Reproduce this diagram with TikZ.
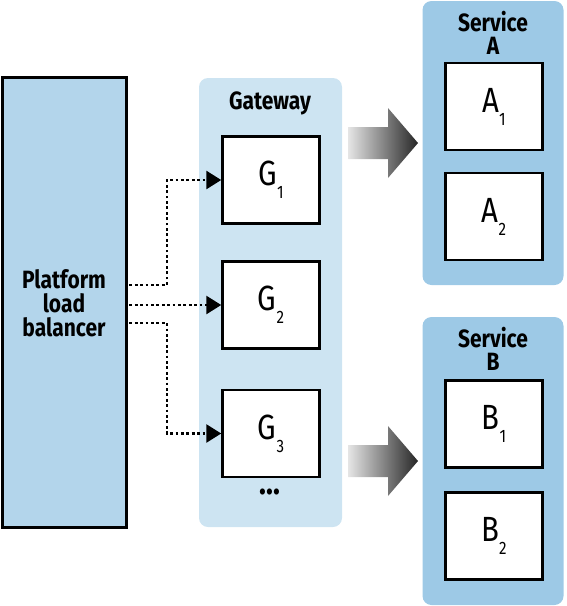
\documentclass[tikz,border=0pt]{standalone}
\usepackage{fontspec}
\setmainfont{Fira Sans}[FakeStretch=0.84]
\usetikzlibrary{arrows.meta,calc}
\definecolor{platblue}{HTML}{B3D5EB}
\definecolor{gwblue}{HTML}{CDE4F2}
\definecolor{svblue}{HTML}{9DC9E6}
\tikzset{
  lbl/.style={font=\fontsize{25}{24}\selectfont\bfseries, align=center, inner sep=0pt},
  inbox/.style={draw=black, line width=2.5pt, fill=white, minimum width=97pt, minimum height=87pt, inner sep=0pt, font=\fontsize{35}{36}\selectfont},
  dotline/.style={line width=2.8pt, dash pattern=on 2.8pt off 2.6pt, -{Triangle[length=15pt,width=18pt]}},
  bigarrow/.style={left color=black!10, right color=black!85, draw=none},
}
\newcommand{\sbx}[2]{#1\raisebox{-13pt}{\fontsize{18}{18}\selectfont #2}}
\begin{document}
\begin{tikzpicture}[x=1pt,y=-1pt]
\useasboundingbox (0,0) rectangle (566,606);
% containers
\node[draw=black, line width=2.8pt, fill=platblue, minimum width=124pt, minimum height=450pt, inner sep=0pt] (plat) at (64.5,302.5) {};
\node[lbl] (platlbl) at (64,303) {Platform\\load\\balancer};
\node[fill=gwblue, rounded corners=9pt, minimum width=143pt, minimum height=449pt, inner sep=0pt] (gw) at (270.5,302.5) {};
\node[lbl] (gwlbl) at (270,103) {Gateway};
\node[fill=svblue, rounded corners=9pt, minimum width=141pt, minimum height=284pt, inner sep=0pt] (sa) at (493,143) {};
\node[fill=svblue, rounded corners=9pt, minimum width=141pt, minimum height=288pt, inner sep=0pt] (sb) at (493,461) {};
\node[lbl, font=\fontsize{25}{23}\selectfont\bfseries] (salbl) at (493,33) {Service\\A};
\node[lbl, font=\fontsize{25}{23}\selectfont\bfseries] (sblbl) at (493,349) {Service\\B};
% gateway instances
\node[inbox] (g1) at (271,180) {\sbx{G}{1}};
\node[inbox] (g2) at (271,305) {\sbx{G}{2}};
\node[inbox] (g3) at (271,433.5) {\sbx{G}{3}};
\node[lbl, font=\fontsize{34}{34}\selectfont\bfseries] (dots) at (270,492) {...};
% service instances
\node[inbox] (a1) at (494,106.5) {\sbx{A}{1}};
\node[inbox] (a2) at (494,216.5) {\sbx{A}{2}};
\node[inbox] (b1) at (494,424) {\sbx{B}{1}};
\node[inbox] (b2) at (494,536) {\sbx{B}{2}};
% dotted connectors
\coordinate (p1) at ($(plat.east |- 0,285)+(1.5,0)$);
\coordinate (p2) at ($(plat.east |- 0,305)+(1.5,0)$);
\coordinate (p3) at ($(plat.east |- 0,323)+(1.5,0)$);
\draw[dotline] (p1) -- (167,285) |- (g1.west);
\draw[dotline] (p2) -- (g2.west);
\draw[dotline] (p3) -- (167,323) |- (g3.west);
% big arrows
\path[bigarrow] (348,127) -- (388,127) -- (388,108) -- (418,143) -- (388,178) -- (388,159) -- (348,159) -- cycle;
\path[bigarrow] (348,445) -- (388,445) -- (388,426) -- (418,461) -- (388,496) -- (388,477) -- (348,477) -- cycle;
\end{tikzpicture}
\end{document}
